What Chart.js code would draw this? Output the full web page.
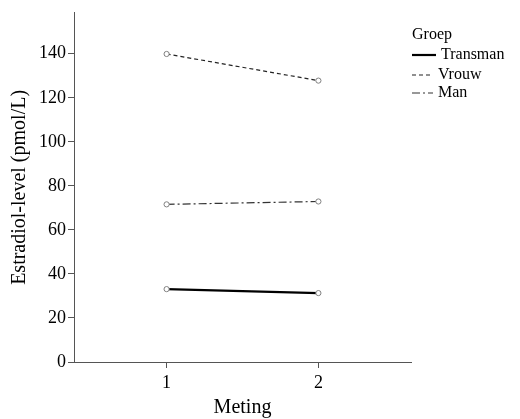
<!DOCTYPE html>
<html>
<head>
<meta charset="utf-8">
<script src="https://cdn.jsdelivr.net/npm/chart.js@4.4.0/dist/chart.umd.min.js"></script>
<style>
  html, body { margin: 0; padding: 0; background: #fff; }
  #wrap { width: 520px; height: 419px; position: relative; }
</style>
</head>
<body>
<div id="wrap"><canvas id="chart"></canvas></div>
<script>
// Estradiol per groep, twee metingen
const metingen = [1, 2];
const groepen = ['Transman', 'Vrouw', 'Man'];
const transman = [33.1, 31.3];
const vrouw = [139.9, 127.8];
const man = [71.6, 72.9];
const yTicks = [0, 20, 40, 60, 80, 100, 120, 140];

const serif = '"Liberation Serif", "Times New Roman", serif';

function pts(values) {
    return metingen.map((m, i) => ({ x: m, y: values[i] }));
}

const lineStyles = {
    Transman: { color: '#000', width: 2.2, dash: [] },
    Vrouw: { color: '#222', width: 1.2, dash: [4, 3] },
    Man: { color: '#333', width: 1.2, dash: [8, 3, 2, 3] }
};

function dataset(label, values) {
    const s = lineStyles[label];
    return {
        label: label,
        data: pts(values),
        borderColor: s.color,
        borderWidth: s.width,
        borderDash: s.dash,
        pointRadius: 2.6,
        pointBorderWidth: 1,
        pointBorderColor: '#808080',
        pointBackgroundColor: '#fff',
        fill: false,
        tension: 0
    };
}

// legend drawn by hand, like the SPSS one
const groepLegend = {
    id: 'groepLegend',
    afterDraw(chart) {
        const ctx = chart.ctx;
        ctx.save();
        ctx.fillStyle = '#000';
        ctx.textBaseline = 'middle';
        ctx.font = '16px ' + serif;
        ctx.fillText('Groep', 412, 35);
        const rows = [55, 75, 93];
        groepen.forEach((g, i) => {
            const s = lineStyles[g];
            ctx.beginPath();
            ctx.strokeStyle = s.color;
            ctx.lineWidth = s.width;
            ctx.setLineDash(s.dash);
            ctx.moveTo(412, rows[i]);
            ctx.lineTo(i === 0 ? 436 : 433, rows[i]);
            ctx.stroke();
            ctx.setLineDash([]);
            ctx.fillText(g, i === 0 ? 441 : 438, rows[i]);
        });
        ctx.restore();
    }
};

new Chart(document.getElementById('chart'), {
    type: 'line',
    data: {
        datasets: [
            dataset('Transman', transman),
            dataset('Vrouw', vrouw),
            dataset('Man', man)
        ]
    },
    options: {
        responsive: true,
        maintainAspectRatio: false,
        animation: false,
        layout: { padding: { left: 0, top: 12, right: 109, bottom: 0 } },
        plugins: {
            legend: { display: false },
            tooltip: { enabled: false }
        },
        scales: {
            x: {
                type: 'linear',
                min: 0.39,
                max: 2.61,
                afterBuildTicks: (scale) => { scale.ticks = metingen.map(v => ({ value: v })); },
                afterFit: (scale) => { scale.height = 57; },
                border: { display: true, color: '#555', width: 1 },
                grid: { display: true, drawOnChartArea: false, drawTicks: true, tickLength: 6, color: '#555' },
                ticks: { color: '#000', font: { family: serif, size: 18 }, padding: 4 },
                title: {
                    display: true,
                    text: 'Meting',
                    color: '#000',
                    font: { family: serif, size: 20, lineHeight: 1 },
                    padding: { top: 0, bottom: 1 }
                }
            },
            y: {
                min: 0,
                max: 158.6,
                afterBuildTicks: (scale) => { scale.ticks = yTicks.map(v => ({ value: v })); },
                afterFit: (scale) => { scale.width = 74; },
                border: { display: true, color: '#555', width: 1 },
                grid: { display: true, drawOnChartArea: false, drawTicks: true, tickLength: 6, color: '#555' },
                ticks: { color: '#000', font: { family: serif, size: 18 }, padding: 2 },
                title: {
                    display: true,
                    text: 'Estradiol-level (pmol/L)',
                    color: '#000',
                    font: { family: serif, size: 20, lineHeight: 1.2 },
                    padding: { top: 8, bottom: 0 }
                }
            }
        }
    },
    plugins: [groepLegend]
});
</script>
</body>
</html>
